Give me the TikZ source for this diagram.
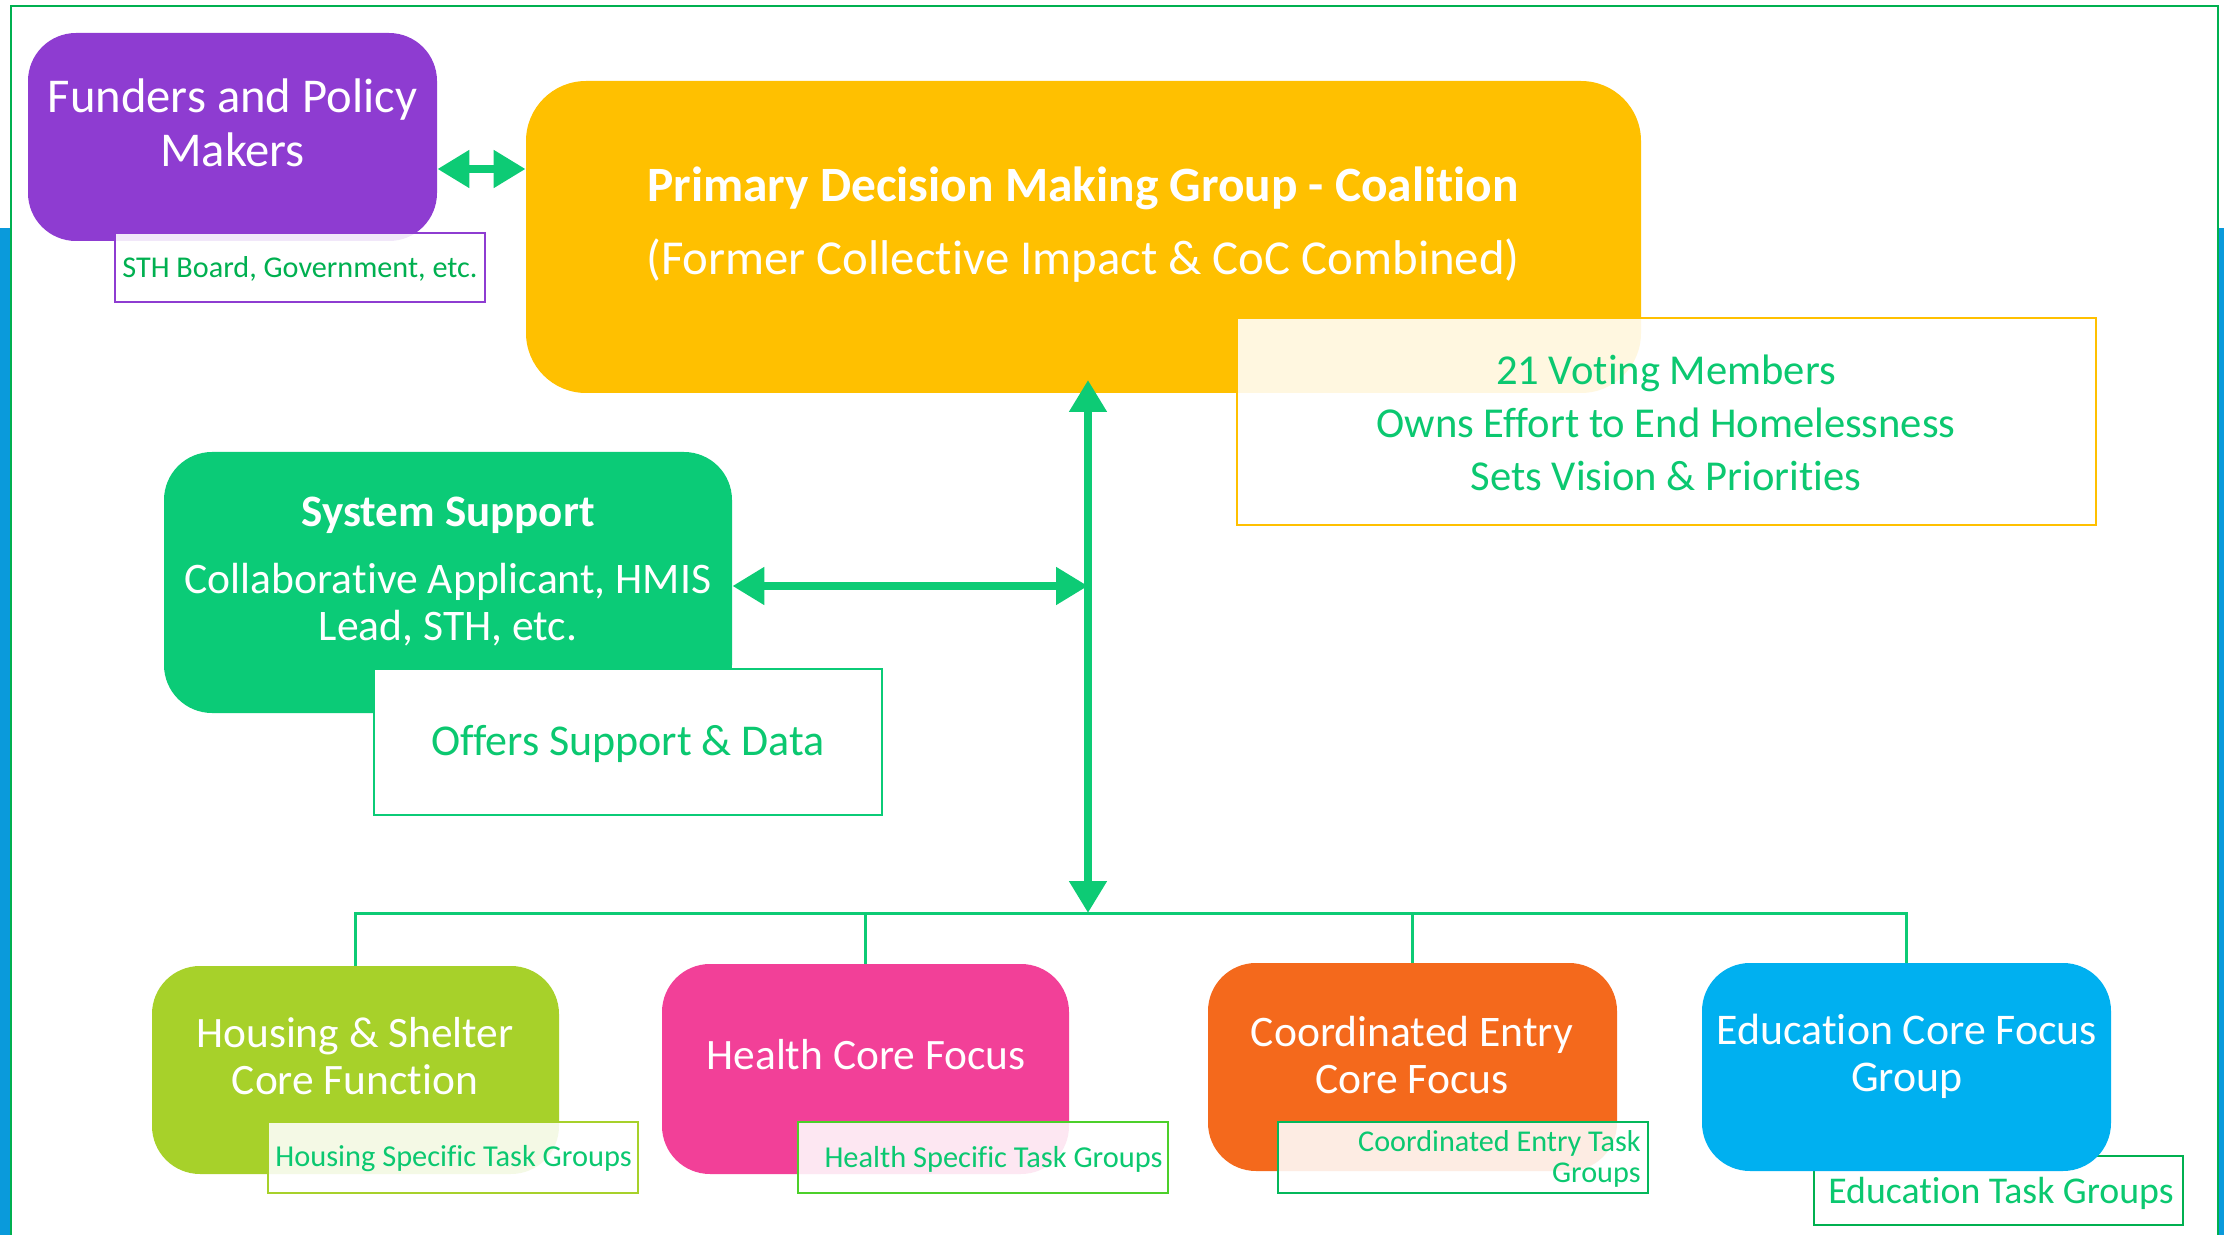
\documentclass[tikz,border=0pt]{standalone}
\usepackage{fontspec}
\setmainfont{Carlito}[Ligatures=CommonOff]
\usetikzlibrary{arrows.meta}
\definecolor{fgreen}{HTML}{00B050}
\definecolor{sidebar}{HTML}{0A9ADB}
\definecolor{cpurple}{HTML}{8E3CD1}
\definecolor{cyellow}{HTML}{FFC000}
\definecolor{cgreen}{HTML}{0BCB77}
\definecolor{clime}{HTML}{A7D12A}
\definecolor{cpink}{HTML}{F24098}
\definecolor{corange}{HTML}{F4691C}
\definecolor{cblue}{HTML}{00B0F0}
\definecolor{tgreen}{HTML}{0BC870}
\definecolor{agreen}{HTML}{0DCB75}
\definecolor{lgreen}{HTML}{4CD02A}
\begin{document}
\begin{tikzpicture}[x=0.5pt,y=-0.5pt,
  cbox/.style={rounded corners=24pt, inner sep=0pt},
  lab/.style={draw, line width=1.2pt, fill=white, fill opacity=0.88, text opacity=1, inner sep=0pt},
  wt/.style={text=white, align=center, inner sep=0pt},
  gt/.style={text=tgreen, align=center, inner sep=0pt},
  bigarrow/.style={draw=agreen, line width=4pt, {Triangle[length=16pt,width=18pt]}-{Triangle[length=16pt,width=18pt]}},
  bus/.style={draw=agreen, line width=1.5pt}]
\useasboundingbox (0,0) rectangle (2224,1235);
% side bars and frame
\fill[sidebar] (0,228) rectangle (10,1235);
\fill[sidebar] (2219,228) rectangle (2224,1235);
\draw[fgreen, line width=1.2pt] (11,1240) -- (11,6) -- (2218,6) -- (2218,1240);

% Funders
\node[cbox, fill=cpurple, minimum width=204.5pt, minimum height=104pt] (fun) at (232.5,137) {};
\node[wt, font=\fontsize{24.3}{27}\selectfont] (funT) at (232.5,123) {Funders and Policy\\Makers};
\node[lab, draw=cpurple, minimum width=185pt, minimum height=34.5pt] (sth) at (300,267.5) {};
\node[gt, text=fgreen, font=\fontsize{15.1}{17}\selectfont] (sthT) at (300,269) {STH Board, Government, etc.};

% Primary
\node[cbox, rounded corners=30pt, fill=cyellow, minimum width=557.5pt, minimum height=156pt] (prim) at (1083.5,237) {};
\node[wt, font=\bfseries\fontsize{24.7}{28}\selectfont] (primT1) at (1083,188) {Primary Decision Making Group - Coalition};
\node[wt, font=\fontsize{24.4}{28}\selectfont] (primT2) at (1083,261) {(Former Collective Impact \& CoC Combined)};
\node[lab, draw=cyellow, minimum width=429.5pt, minimum height=103.5pt] (vote) at (1666.5,421.5) {};
\node[gt, font=\fontsize{21.3}{26.5}\selectfont] (voteT) at (1666,423) {21 Voting Members\\Owns Effort to End Homelessness\\Sets Vision \& Priorities};

% Funders <-> Primary
\draw[bigarrow] ([yshift=-16pt]fun.east) -- ([yshift=34pt]prim.west);

% System support
\node[cbox, fill=cgreen, minimum width=284pt, minimum height=130.5pt] (sys) at (448,582.5) {};
\node[wt, font=\bfseries\fontsize{22.5}{26}\selectfont] (sysT1) at (448,515) {System Support};
\node[wt, font=\fontsize{21.8}{23.5}\selectfont] (sysT2) at (448,605) {Collaborative Applicant, HMIS\\Lead, STH, etc.};
\node[draw=cgreen, line width=1.2pt, fill=white, inner sep=0pt, minimum width=254pt, minimum height=73pt] (off) at (628,742) {};
\node[gt, font=\fontsize{22}{24}\selectfont] (offT) at (628,744) {Offers Support \& Data};

% connectors
\coordinate (vtop) at (1088,380);
\coordinate (J) at (1088,586);
\coordinate (bus) at (1088,913);
\draw[bigarrow] (sys.east |- J) -- (J);
\draw[bigarrow] (bus) -- (vtop);

% bottom boxes
\node[lab, draw=fgreen, minimum width=184.5pt, minimum height=34.5pt] (elab) at (1998.5,1190.5) {};
\node[cbox, fill=clime, minimum width=203.5pt, minimum height=104pt] (hous) at (355.5,1070) {};
\node[cbox, fill=cpink, minimum width=203.5pt, minimum height=105pt] (heal) at (865.5,1069) {};
\node[cbox, fill=corange, minimum width=204.5pt, minimum height=104pt] (coord) at (1412.5,1067) {};
\node[cbox, fill=cblue, minimum width=204.5pt, minimum height=104pt] (edu) at (1906.5,1067) {};
\node[wt, font=\fontsize{21.7}{23.5}\selectfont] (housT) at (355,1056) {Housing \& Shelter\\Core Function};
\node[wt, font=\fontsize{21.7}{23.5}\selectfont] (healT) at (866,1055) {Health Core Focus};
\node[wt, font=\fontsize{21.8}{23.5}\selectfont] (coordT) at (1412,1055) {Coordinated Entry\\Core Focus};
\node[wt, font=\fontsize{21.9}{23.5}\selectfont] (eduT) at (1907,1056) {Education Core Focus\\Group};

\node[lab, draw=clime, minimum width=185pt, minimum height=35.5pt] (hlab) at (453,1157.5) {};
\node[lab, draw=lgreen, minimum width=185pt, minimum height=35.5pt] (helab) at (983,1157.5) {};
\node[lab, draw=fgreen!70!agreen, minimum width=185pt, minimum height=35.5pt] (clab) at (1463,1157.5) {};
\node[gt, anchor=west, font=\fontsize{15.2}{16}\selectfont] (hlabT) at (275,1159) {Housing Specific Task Groups};
\node[gt, anchor=east, font=\fontsize{15.2}{16}\selectfont] (helabT) at (1163,1159) {Health Specific Task Groups};
\node[gt, anchor=east, align=right, font=\fontsize{15.1}{15.5}\selectfont] (clabT) at (1641,1159) {Coordinated Entry Task\\Groups};
\node[gt, font=\fontsize{18.9}{20}\selectfont] (elabT) at (2001,1193) {Education Task Groups};

% bus
\draw[bus] (hous.north) -- (hous.north |- bus) -- (edu.north |- bus) -- (edu.north);
\draw[bus] (heal.north) -- (heal.north |- bus);
\draw[bus] (coord.north) -- (coord.north |- bus);
\end{tikzpicture}
\end{document}
